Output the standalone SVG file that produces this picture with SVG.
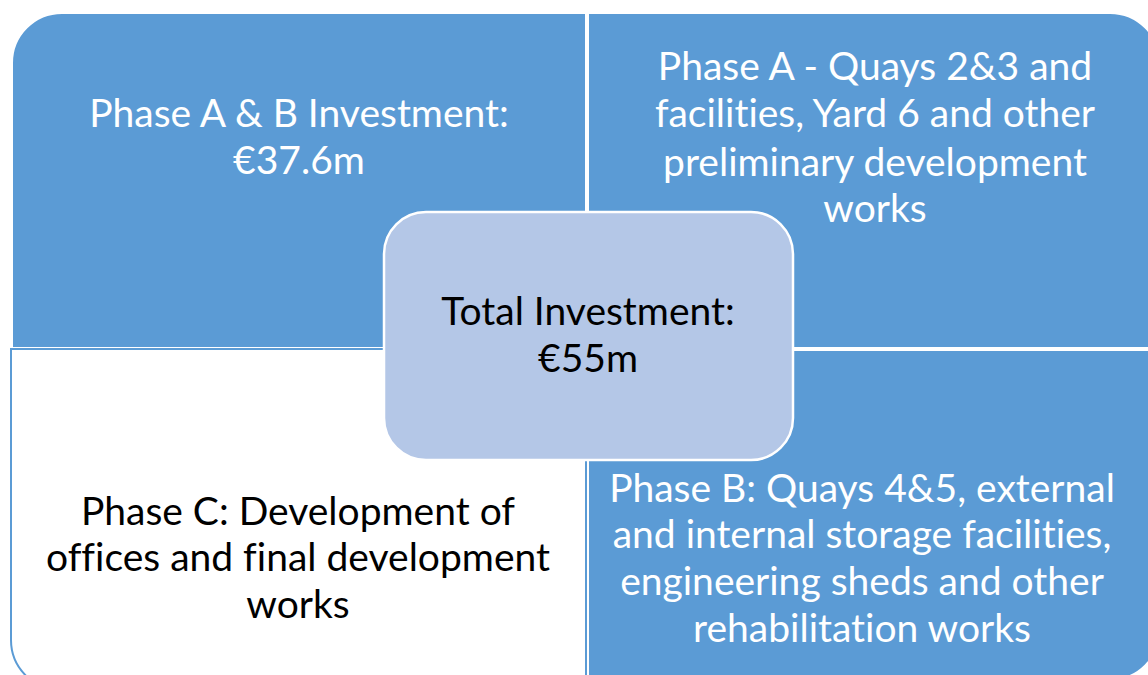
<svg xmlns="http://www.w3.org/2000/svg" width="1148" height="675" viewBox="0 0 1148 675">
<style>
.q{fill:#5B9BD5;stroke:#FFFFFF;stroke-width:2}
.qw{fill:#FFFFFF;stroke:#5B9BD5;stroke-width:2}
.c{fill:#B4C7E7;stroke:#FFFFFF;stroke-width:2.5}
text{font-family:Lato,"Liberation Sans",sans-serif;font-size:39px;text-anchor:middle;font-variant-ligatures:none}
.tw{fill:#FFFFFF}
.tb{fill:#000000}
</style>
<rect width="1148" height="675" fill="#FFFFFF"/>
<g id="connectors"></g>
<g id="phaseAB">
<path class="q" d="M12,63 A50,50 0 0 1 62,13 L586,13 L586,348 L12,348 Z"/>
<text class="tw" x="299" y="127">Phase A &amp; B Investment:</text>
<text class="tw" x="299" y="174">€37.6m</text>
</g>
<g id="phaseA">
<path class="q" d="M588,13 L1110,13 A50,50 0 0 1 1160,63 L1160,348 L588,348 Z"/>
<text class="tw" x="875" y="80">Phase A - Quays 2&amp;3 and</text>
<text class="tw" x="875" y="127">facilities, Yard 6 and other</text>
<text class="tw" x="875" y="176">preliminary development</text>
<text class="tw" x="875" y="222">works</text>
</g>
<g id="phaseC">
<path class="qw" d="M11,349 L586,349 L586,690 L61,690 A50,50 0 0 1 11,640 Z"/>
<text class="tb" x="298" y="525">Phase C: Development of</text>
<text class="tb" x="298" y="571">offices and final development</text>
<text class="tb" x="298" y="618">works</text>
</g>
<g id="phaseB">
<path class="q" d="M588,350 L1160,350 L1160,630 A50,50 0 0 1 1110,680 L588,680 Z"/>
<text class="tw" x="862" y="502">Phase B: Quays 4&amp;5, external</text>
<text class="tw" x="862" y="548">and internal storage facilities,</text>
<text class="tw" x="862" y="595">engineering sheds and other</text>
<text class="tw" x="862" y="642">rehabilitation works</text>
</g>
<g id="total">
<rect class="c" x="384" y="212" width="409" height="248" rx="42" ry="42"/>
<text class="tb" x="588" y="325">Total Investment:</text>
<text class="tb" x="588" y="372">€55m</text>
</g>
</svg>
